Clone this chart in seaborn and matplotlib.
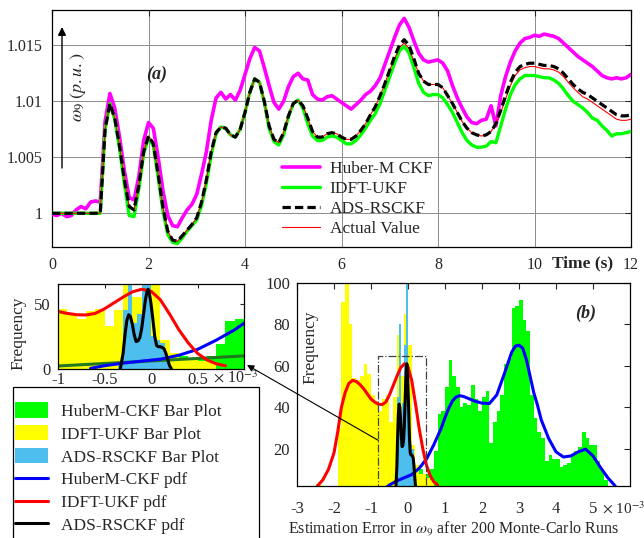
import numpy as np
import pandas as pd
import matplotlib
matplotlib.use("Agg")
import matplotlib.pyplot as plt
import seaborn as sns
from matplotlib.patches import Rectangle, Patch
from matplotlib.lines import Line2D

# ---------------- data: panel (a) ----------------
time_s = np.round(np.arange(0, 121) * 0.1, 1)

huber_m_ckf = [0.9999, 0.9998, 1.0000, 0.9997, 0.9998, 1.0003, 1.0006, 1.0004, 1.0010, 1.0011, 1.0010,
               1.0082, 1.0107, 1.0094, 1.0068, 1.0038, 1.0014, 1.0012, 1.0033, 1.0065, 1.0081,
               1.0076, 1.0050, 1.0020, 0.9998, 0.9989, 0.9988, 0.9996, 1.0003, 1.0008, 1.0017,
               1.0035, 1.0055, 1.0083, 1.0103, 1.0108, 1.0102, 1.0106, 1.0101, 1.0110, 1.0124,
               1.0138, 1.0148, 1.0145, 1.0130, 1.0114, 1.0099, 1.0093, 1.0100, 1.0113, 1.0122,
               1.0125, 1.0120, 1.0119, 1.0106, 1.0102, 1.0101, 1.0104, 1.0105, 1.0102, 1.0099,
               1.0096, 1.0093, 1.0097, 1.0101, 1.0106, 1.0109, 1.0114, 1.0121, 1.0133, 1.0145,
               1.0157, 1.0168, 1.0174, 1.0166, 1.0154, 1.0143, 1.0137, 1.0135, 1.0136, 1.0137,
               1.0134, 1.0127, 1.0114, 1.0103, 1.0094, 1.0086, 1.0081, 1.0080, 1.0083, 1.0084,
               1.0096, 1.0078, 1.0105, 1.0122, 1.0135, 1.0145, 1.0152, 1.0156, 1.0157, 1.0159,
               1.0158, 1.0160, 1.0159, 1.0158, 1.0156, 1.0152, 1.0148, 1.0144, 1.0140, 1.0137,
               1.0134, 1.0131, 1.0127, 1.0123, 1.0121, 1.0120, 1.0121, 1.0120, 1.0121, 1.0124]

idft_ukf = [1.0000, 1.0000, 1.0000, 1.0000, 1.0000, 1.0000, 1.0000, 1.0000, 1.0000, 1.0000, 1.0000,
            1.0075, 1.0098, 1.0084, 1.0058, 1.0026, 0.9998, 0.9997, 1.0022, 1.0053, 1.0068,
            1.0060, 1.0032, 1.0002, 0.9981, 0.9974, 0.9973, 0.9978, 0.9984, 0.9989, 0.9994,
            1.0007, 1.0027, 1.0052, 1.0071, 1.0077, 1.0076, 1.0070, 1.0068, 1.0075, 1.0090,
            1.0108, 1.0120, 1.0117, 1.0099, 1.0076, 1.0064, 1.0061, 1.0070, 1.0086, 1.0098,
            1.0101, 1.0094, 1.0080, 1.0069, 1.0065, 1.0065, 1.0068, 1.0069, 1.0068, 1.0065,
            1.0062, 1.0062, 1.0065, 1.0070, 1.0076, 1.0083, 1.0089, 1.0098, 1.0110, 1.0122,
            1.0134, 1.0145, 1.0149, 1.0143, 1.0130, 1.0116, 1.0108, 1.0105, 1.0106, 1.0106,
            1.0103, 1.0097, 1.0090, 1.0081, 1.0072, 1.0065, 1.0061, 1.0059, 1.0059, 1.0060,
            1.0064, 1.0063, 1.0078, 1.0093, 1.0106, 1.0115, 1.0120, 1.0123, 1.0123, 1.0123,
            1.0122, 1.0121, 1.0121, 1.0119, 1.0116, 1.0111, 1.0105, 1.0100, 1.0097, 1.0094,
            1.0090, 1.0085, 1.0083, 1.0078, 1.0074, 1.0069, 1.0071, 1.0071, 1.0072, 1.0073]

ads_rsckf = [1.0000, 1.0000, 1.0000, 1.0000, 1.0000, 1.0000, 1.0000, 1.0000, 1.0000, 1.0000, 1.0000,
             1.0075, 1.0098, 1.0085, 1.0060, 1.0030, 1.0006, 1.0003, 1.0025, 1.0055, 1.0069,
             1.0062, 1.0035, 1.0005, 0.9984, 0.9976, 0.9975, 0.9980, 0.9985, 0.9990, 0.9996,
             1.0010, 1.0030, 1.0055, 1.0072, 1.0077, 1.0076, 1.0070, 1.0068, 1.0075, 1.0090,
             1.0108, 1.0120, 1.0117, 1.0100, 1.0078, 1.0066, 1.0063, 1.0072, 1.0087, 1.0098,
             1.0101, 1.0096, 1.0085, 1.0073, 1.0068, 1.0068, 1.0071, 1.0072, 1.0071, 1.0068,
             1.0066, 1.0066, 1.0069, 1.0074, 1.0080, 1.0088, 1.0095, 1.0105, 1.0116, 1.0128,
             1.0140, 1.0150, 1.0155, 1.0150, 1.0138, 1.0125, 1.0118, 1.0115, 1.0115, 1.0115,
             1.0112, 1.0105, 1.0098, 1.0090, 1.0082, 1.0076, 1.0072, 1.0070, 1.0069, 1.0070,
             1.0073, 1.0080, 1.0092, 1.0105, 1.0117, 1.0126, 1.0131, 1.0133, 1.0134, 1.0134,
             1.0133, 1.0132, 1.0132, 1.0131, 1.0129, 1.0125, 1.0120, 1.0115, 1.0111, 1.0108,
             1.0106, 1.0103, 1.0100, 1.0097, 1.0094, 1.0091, 1.0088, 1.0087, 1.0087, 1.0088]

actual_value = [1.0000, 1.0000, 1.0000, 1.0000, 1.0000, 1.0000, 1.0000, 1.0000, 1.0000, 1.0000, 1.0000,
                1.0075, 1.0098, 1.0085, 1.0060, 1.0030, 1.0006, 1.0003, 1.0025, 1.0055, 1.0069,
                1.0062, 1.0035, 1.0005, 0.9984, 0.9976, 0.9975, 0.9980, 0.9985, 0.9990, 0.9996,
                1.0010, 1.0030, 1.0055, 1.0072, 1.0077, 1.0076, 1.0070, 1.0068, 1.0075, 1.0090,
                1.0108, 1.0120, 1.0117, 1.0100, 1.0078, 1.0066, 1.0063, 1.0072, 1.0087, 1.0098,
                1.0101, 1.0096, 1.0085, 1.0073, 1.0068, 1.0068, 1.0071, 1.0072, 1.0071, 1.0068,
                1.0066, 1.0066, 1.0069, 1.0074, 1.0080, 1.0088, 1.0095, 1.0105, 1.0116, 1.0128,
                1.0138, 1.0148, 1.0152, 1.0147, 1.0136, 1.0125, 1.0118, 1.0115, 1.0115, 1.0115,
                1.0112, 1.0105, 1.0098, 1.0090, 1.0082, 1.0076, 1.0072, 1.0070, 1.0069, 1.0070,
                1.0073, 1.0080, 1.0090, 1.0102, 1.0114, 1.0123, 1.0128, 1.0130, 1.0131, 1.0131,
                1.0130, 1.0129, 1.0129, 1.0128, 1.0126, 1.0122, 1.0117, 1.0112, 1.0108, 1.0104,
                1.0102, 1.0099, 1.0096, 1.0093, 1.0090, 1.0087, 1.0084, 1.0083, 1.0083, 1.0084]

# ---------------- data: panel (b) (errors in units of 1e-3) ----------------
idft_bin_centers = [-2.45, -2.35, -2.25, -2.15, -2.05, -1.95, -1.85, -1.75, -1.65, -1.55,
                    -1.45, -1.35, -1.25, -1.15, -1.05, -0.95, -0.85, -0.75, -0.65, -0.55,
                    -0.45, -0.35, -0.25, -0.15, -0.05, 0.05, 0.15, 0.25, 0.35, 0.45, 0.55, 0.65]
idft_counts = [3, 2.5, 0, 0, 0, 0, 30, 91, 108, 80,
               54, 53, 55, 61, 56, 46, 43, 38, 44, 46,
               33, 45, 75, 55, 85, 70, 22, 12, 8, 8, 6, 5]

huber_bin_centers = [0.35, 0.45, 0.55, 0.65, 0.75, 0.85, 0.95, 1.05, 1.15, 1.25,
                     1.35, 1.45, 1.55, 1.65, 1.75, 1.85, 1.95, 2.05, 2.15, 2.25,
                     2.35, 2.45, 2.55, 2.65, 2.75, 2.85, 2.95, 3.05, 3.15, 3.25,
                     3.35, 3.45, 3.55, 3.65, 3.75, 3.85, 3.95, 4.05, 4.15, 4.25,
                     4.35, 4.45, 4.55, 4.65, 4.75, 4.85, 4.95, 5.05, 5.15, 5.25, 5.35]
huber_counts = [10, 5, 8, 10, 19, 37, 38, 50, 63, 55,
                50, 40, 42, 41, 51, 44, 38, 45, 48, 23,
                33, 38, 46, 61, 64, 88, 89, 92, 82, 77,
                46, 35, 28, 25, 14, 17, 15, 15, 11, 12,
                13, 17, 19, 21, 28, 25, 22, 22, 14, 10, 5]

ads_bin_centers = [-0.325, -0.275, -0.225, -0.175, -0.125, -0.075, -0.025, 0.025, 0.075, 0.125, 0.175]
ads_counts = [5, 45, 80, 35, 42, 70, 105, 25, 22, 20, 9]

huber_pdf_x = [-0.65, -0.5, -0.3, -0.1, 0.1, 0.3, 0.5, 0.7, 0.9, 1.0, 1.1, 1.2, 1.3, 1.4, 1.5, 1.6,
               1.8, 2.0, 2.2, 2.4, 2.6, 2.8, 2.9, 3.0, 3.1, 3.2, 3.3, 3.4, 3.5, 3.6, 3.8, 4.0,
               4.2, 4.4, 4.6, 4.8, 5.0, 5.2, 5.4, 5.6]
huber_pdf_y = [0.5, 2.5, 4.5, 6, 7.5, 10.5, 15, 22, 30, 35, 39.5, 43, 45, 45.6, 45.2, 44.5,
               43, 42, 41.8, 46, 56, 66.5, 69.5, 70, 68.5, 63, 55, 47, 41, 34, 25, 18.5,
               16, 16.5, 18.5, 19.8, 16.5, 11, 6, 2]

idft_pdf_x = [-2.45, -2.3, -2.15, -2.0, -1.9, -1.8, -1.7, -1.6, -1.5, -1.4, -1.3, -1.2, -1.1,
              -1.0, -0.9, -0.8, -0.7, -0.6, -0.5, -0.4, -0.3, -0.2, -0.1, 0.0, 0.1, 0.2, 0.3,
              0.4, 0.5, 0.6, 0.7, 0.8]
idft_pdf_y = [2, 5, 10, 18, 28, 40, 47, 51.5, 53, 52.5, 51, 49, 46.5,
              44, 42.5, 41.5, 41.3, 42.5, 46, 50.5, 55, 59, 61, 59.5, 53, 42, 30,
              20, 12, 7, 4, 2.5]

ads_pdf_x = [-0.33, -0.30, -0.28, -0.26, -0.24, -0.22, -0.20, -0.18, -0.16, -0.14, -0.12, -0.10,
             -0.08, -0.06, -0.04, -0.03, -0.02, 0.0, 0.02, 0.04, 0.06, 0.08, 0.10, 0.12, 0.14,
             0.16, 0.18, 0.20, 0.22]
ads_pdf_y = [0, 12, 26, 37, 41.5, 40, 34, 26, 21, 21.5, 24, 31,
             42, 53, 60, 61, 59, 50, 38, 25, 18, 17, 17, 16.5, 15.5,
             12, 7, 2.5, 0]

inset_extra_x = [-1.0, 1.0]
inset_extra_y = [2.3, 10.0]

# ---------------- style ----------------
sns.set_style("white")
plt.rcParams['font.family'] = ['Liberation Serif', 'DejaVu Serif']
plt.rcParams['mathtext.fontset'] = 'stix'
plt.rcParams['axes.unicode_minus'] = False

W, H = 644, 538
fig = plt.figure(figsize=(W / 100, H / 100), dpi=100)


def box(x0, y0, x1, y1):
    return [x0 / W, 1 - y1 / H, (x1 - x0) / W, (y1 - y0) / H]


def fx(px):
    return px / W


def fy(py):
    return 1 - py / H


MAG, GRN, YEL, SKY = '#ff00ff', '#00ff00', '#ffff00', '#4dbeee'

# ---------------- panel (a) ----------------
ax = fig.add_axes(box(52, 10, 631, 247))
sns.lineplot(x=time_s, y=huber_m_ckf, ax=ax, color=MAG, lw=2.6, zorder=3)
sns.lineplot(x=time_s, y=idft_ukf, ax=ax, color=GRN, lw=2.4, zorder=4)
sns.lineplot(x=time_s, y=actual_value, ax=ax, color='red', lw=0.8, zorder=5)
sns.lineplot(x=time_s, y=ads_rsckf, ax=ax, color='black', lw=2.3, linestyle=(0, (2.6, 1.3)), zorder=6)
ax.set_xlim(0, 12)
ax.set_ylim(0.99699, 1.01815)
ax.set_xticks(range(0, 13, 2))
ax.set_yticks([1.0, 1.005, 1.01, 1.015])
ax.set_yticklabels(['1', '1.005', '1.01', '1.015'])
ax.grid(True, color='#8c8c8c', lw=0.7)
ax.tick_params(direction='in', top=True, right=True, labelsize=11.5, pad=7, length=4, width=0.8)
ax.set_xlabel('')
ax.set_ylabel('')
for s in ax.spines.values():
    s.set_color('black')
    s.set_linewidth(0.9)

handles_a = [Line2D([], [], color=MAG, lw=2.6), Line2D([], [], color=GRN, lw=2.4),
             Line2D([], [], color='black', lw=2.3, linestyle=(0, (2.6, 1.3))),
             Line2D([], [], color='red', lw=0.8)]
labels_a = ['Huber-M CKF', 'IDFT-UKF', 'ADS-RSCKF', 'Actual Value']
ax.legend(handles_a, labels_a, loc='upper left', bbox_to_anchor=(fx(282), fy(161)),
          bbox_transform=fig.transFigure, frameon=False, fontsize=12.5, handlelength=2.2,
          handletextpad=0.55, labelspacing=0.22, borderpad=0, borderaxespad=0)

ax.annotate('', xy=(fx(62), fy(27)), xycoords='figure fraction', xytext=(fx(62), fy(168)),
            textcoords='figure fraction',
            arrowprops=dict(arrowstyle='-|>', color='black', lw=1.0, mutation_scale=12,
                            shrinkA=0, shrinkB=0))
fig.text(fx(78), fy(87), r'$\omega_9\ (p.u.)$', rotation=90, ha='center', va='center', fontsize=13)
fig.text(fx(157), fy(74), '(a)', ha='center', va='center', fontsize=13, fontweight='bold', fontstyle='italic')
fig.text(fx(583), fy(263), 'Time (s)', ha='center', va='center', fontsize=12.5, fontweight='bold')


# ---------------- panel (b) and its inset ----------------
def hist(axx, centers, counts, width, color):
    df = pd.DataFrame({'err': np.asarray(centers, dtype=float),
                       'cnt': np.asarray(counts, dtype=float)})
    edges = list(np.append(df['err'].values - width / 2, df['err'].values[-1] + width / 2))
    sns.histplot(data=df, x='err', weights='cnt', bins=edges, ax=axx, color=color, alpha=1,
                 linewidth=0, edgecolor='none', element='bars', stat='count')


def draw_all(axx, extra=False):
    hist(axx, huber_bin_centers, huber_counts, 0.1, GRN)
    hist(axx, idft_bin_centers, idft_counts, 0.1, YEL)
    hist(axx, ads_bin_centers, ads_counts, 0.05, SKY)
    if extra:
        sns.lineplot(x=inset_extra_x, y=inset_extra_y, ax=axx, color='#1f7a1f', lw=2.2)
    sns.lineplot(x=huber_pdf_x, y=huber_pdf_y, ax=axx, color='#0000ff', lw=2.2)
    sns.lineplot(x=idft_pdf_x, y=idft_pdf_y, ax=axx, color='#ff0000', lw=2.2)
    sns.lineplot(x=ads_pdf_x, y=ads_pdf_y, ax=axx, color='black', lw=2.2)
    axx.set_xlabel('')
    axx.set_ylabel('')
    for s in axx.spines.values():
        s.set_color('black')
        s.set_linewidth(0.9)


axb = fig.add_axes(box(297, 283, 630, 486))
draw_all(axb)
axb.set_xlim(-3, 6)
axb.set_ylim(2, 100)
axb.set_xticks(range(-3, 6))
axb.set_yticks([20, 40, 60, 80, 100])
axb.tick_params(direction='in', top=True, right=True, labelsize=12, length=4, width=0.8)
axb.tick_params(axis='x', pad=11)
axb.tick_params(axis='y', pad=5)
axb.add_patch(Rectangle((-0.8, 0), 1.3, 65, fill=False, ls='-.', lw=0.9, ec='#404040', zorder=7))

axi = fig.add_axes(box(58, 284, 244, 369))
draw_all(axi, extra=True)
axi.set_xlim(-1, 1)
axi.set_ylim(0, 65)
axi.set_xticks([-1, -0.5, 0, 0.5])
axi.set_xticklabels(['-1', '-0.5', '0', '0.5'])
axi.set_yticks([0, 50])
axi.set_yticklabels(['0', '50'])
axi.tick_params(direction='in', top=True, right=True, labelsize=12, length=3, width=0.8)
axi.tick_params(axis='x', pad=2)
axi.tick_params(axis='y', pad=5)

axb.annotate('', xy=(fx(247), fy(365)), xycoords='figure fraction', xytext=(-0.8, 24),
             textcoords='data', annotation_clip=False,
             arrowprops=dict(arrowstyle='-|>', color='black', lw=0.8, mutation_scale=10,
                             shrinkA=0, shrinkB=0))

fig.text(fx(310), fy(347), 'Frequency', rotation=90, ha='center', va='center', fontsize=12.5)
fig.text(fx(18), fy(333), 'Frequency', rotation=90, ha='center', va='center', fontsize=12.5)
fig.text(fx(586), fy(313), '(b)', ha='center', va='center', fontsize=13, fontweight='bold', fontstyle='italic')
fig.text(fx(454), fy(529), r'Estimation Error in $\omega_9$ after 200 Monte-Carlo Runs',
         ha='center', va='center', fontsize=11.5)
fig.text(fx(602), fy(508), r'$\times$ 10$^{-3}$', ha='left', va='center', fontsize=11)
fig.text(fx(213), fy(378), r'$\times$ 10$^{-3}$', ha='left', va='center', fontsize=11.5)

# ---------------- legend for the bottom panels ----------------
handles_b = [Patch(facecolor=GRN, edgecolor='none'), Patch(facecolor=YEL, edgecolor='none'),
             Patch(facecolor=SKY, edgecolor='none'),
             Line2D([], [], color='#0000ff', lw=2.2), Line2D([], [], color='#ff0000', lw=2.2),
             Line2D([], [], color='black', lw=2.2)]
labels_b = ['HuberM-CKF Bar Plot', 'IDFT-UKF Bar Plot', 'ADS-RSCKF Bar Plot',
            'HuberM-CKF pdf', 'IDFT-UKF pdf', 'ADS-RSCKF pdf']
fig.legend(handles_b, labels_b, loc='upper left', bbox_to_anchor=(fx(15), fy(402)),
           frameon=False, fontsize=12.5, handlelength=1.9, handleheight=1.0,
           handletextpad=0.75, labelspacing=0.3, borderpad=0, borderaxespad=0)
fig.add_artist(Rectangle((fx(13), -0.02), fx(259) - fx(13), fy(387) + 0.02,
                         transform=fig.transFigure, fill=False, ec='black', lw=0.9))

fig.savefig('out.png', dpi=100)
